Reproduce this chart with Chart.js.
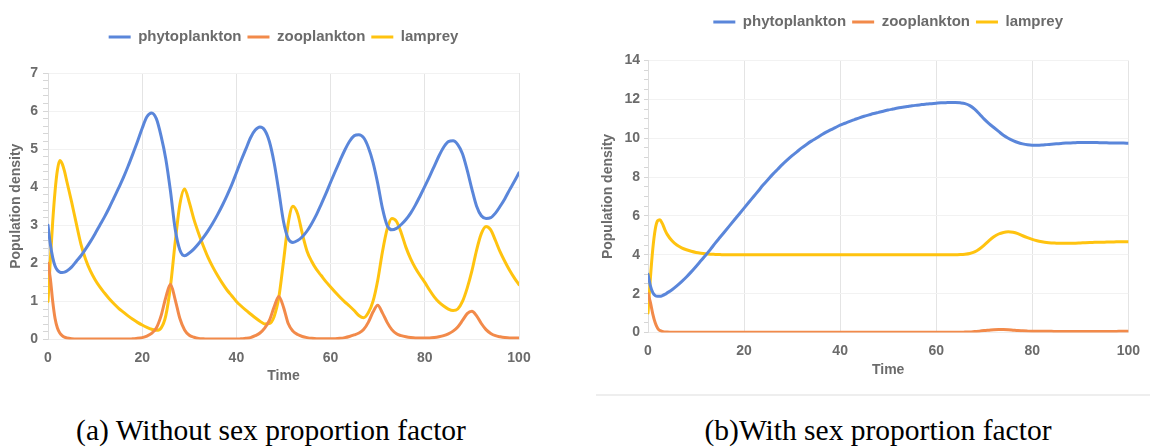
<!DOCTYPE html>
<html><head><meta charset="utf-8">
<script src="https://cdn.jsdelivr.net/npm/chart.js@4"></script>
<style>
html,body{margin:0;padding:0;background:#fff;width:1150px;height:448px;overflow:hidden;position:relative}
.wrap{position:absolute;top:0;height:400px;width:575px}
.cap{position:absolute;top:413px;font-family:"Liberation Serif","Times New Roman",serif;font-size:29.5px;line-height:34px;color:#000;white-space:nowrap;text-align:center;width:500px}
#sep{position:absolute;left:596px;top:394px;width:554px;height:2px;background:#eeeeee}
</style></head><body>
<div class="wrap" style="left:0"><canvas id="ca"></canvas></div>
<div class="wrap" style="left:575px"><canvas id="cb"></canvas></div>
<div id="sep"></div>
<div class="cap" style="left:21px">(a) Without sex proportion factor</div>
<div class="cap" style="left:628px">(b)With sex proportion factor</div>
<script>
const seriesNames = ['phytoplankton','zooplankton','lamprey'];
const seriesColors = ['#5a86da','#f28a4a','#ffc30f'];
const xTicksLabels = [0,20,40,60,80,100];

const timeA = [0,0.5,1,1.5,2,2.5,3,3.5,4,5,6,7,8,9,10,11,12,13,14,15,16,17,18,19,20,21,22,23,24,25,26,27,28,29,30,31,32,33,34,35,36,37,38,39,40,41,42,43,44,45,46,47,48,49,50,51,52,53,54,55,56,57,58,59,60,61,62,63,64,65,66,67,68,69,70,71,72,73,74,75,76,77,78,79,80,81,82,83,84,85,86,87,88,89,90,91,92,93,94,95,96,97,98,99,100];
const phytoA = [3.0,2.5,2.15,1.93,1.82,1.77,1.76,1.77,1.8,
 1.9,2.05,2.2,2.38,2.57,2.78,3.0,3.22,3.46,3.72,3.98,4.25,4.55,4.87,5.2,5.55,5.85,5.95,5.8,5.35,4.75,3.9,2.9,2.35,2.2,2.27,
 2.38,2.52,2.68,2.86,3.06,3.28,3.52,3.78,4.06,4.38,4.7,5.0,5.3,5.5,5.58,5.5,5.2,4.65,3.9,3.1,2.65,2.55,2.6,
 2.7,2.85,3.05,3.28,3.55,3.83,4.13,4.42,4.7,4.97,5.2,5.35,5.38,5.3,5.05,4.65,4.1,3.45,3.0,2.88,2.92,
 3.02,3.15,3.32,3.53,3.77,4.02,4.28,4.55,4.82,5.05,5.2,5.22,5.12,4.88,4.45,3.95,3.5,3.25,3.18,3.2,3.32,3.5,3.7,3.93,4.15,4.38];
const zooA = [2.0,1.6,1.0,0.55,0.3,0.17,0.1,0.06,0.04,
 0.02,0.01,0.01,0.01,0.01,0.01,0.01,0.01,0.01,0.01,0.01,0.01,0.01,0.02,0.03,0.05,0.09,0.16,0.3,0.62,1.1,1.45,1.05,0.55,0.25,0.11,
 0.06,0.03,0.02,0.01,0.01,0.01,0.01,0.01,0.01,0.01,0.02,0.03,0.05,0.1,0.17,0.3,0.5,0.85,1.13,0.85,0.42,0.22,0.13,
 0.08,0.05,0.03,0.02,0.02,0.02,0.02,0.02,0.03,0.05,0.08,0.12,0.17,0.26,0.45,0.72,0.9,0.7,0.45,0.26,0.15,
 0.1,0.07,0.05,0.04,0.04,0.04,0.04,0.05,0.07,0.1,0.15,0.22,0.33,0.5,0.68,0.74,0.62,0.42,0.26,0.16,0.1,0.07,0.05,0.04,0.04,0.04];
const lampA = [1.0,2.1,3.1,3.9,4.45,4.7,4.62,4.42,4.15,
 3.62,3.05,2.5,2.1,1.8,1.57,1.38,1.22,1.07,0.94,0.82,0.72,0.62,0.53,0.45,0.38,0.32,0.27,0.24,0.3,0.62,1.4,2.55,3.55,3.95,3.6,
 3.15,2.78,2.45,2.15,1.9,1.68,1.48,1.3,1.15,1.0,0.88,0.77,0.67,0.57,0.48,0.41,0.42,0.6,1.1,2.05,3.05,3.5,3.3,
 2.78,2.32,2.05,1.84,1.68,1.52,1.38,1.24,1.11,0.99,0.88,0.76,0.63,0.57,0.7,1.0,1.55,2.3,2.9,3.18,3.1,
 2.8,2.42,2.12,1.88,1.68,1.5,1.3,1.12,0.98,0.88,0.8,0.76,0.8,1.0,1.35,1.8,2.35,2.78,2.97,2.88,2.6,2.3,2.05,1.82,1.62,1.44];

const timeB = [0,0.5,1,1.5,2,2.5,3,3.5,4,5,6,7,8,9,10,11,12,13,14,15,16,17,18,19,20,21,22,23,24,25,26,27,28,29,30,31,32,33,34,35,36,37,38,39,40,41,42,43,44,45,46,47,48,49,50,51,52,53,54,55,56,57,58,59,60,61,62,63,64,65,66,67,68,69,70,71,72,73,74,75,76,77,78,79,80,81,82,83,84,85,86,87,88,89,90,91,92,93,94,95,96,97,98,99,100];
const phytoB = [3.0,2.4,2.05,1.9,1.86,1.86,1.9,1.96,2.04,
 2.2,2.4,2.62,2.86,3.12,3.4,3.69,3.98,4.28,4.6,4.9,5.2,5.5,5.8,6.1,6.4,6.7,7.0,7.3,7.6,7.88,8.15,8.4,8.65,8.88,9.1,
 9.3,9.5,9.68,9.85,10.0,10.15,10.3,10.43,10.55,10.67,10.77,10.87,10.96,11.05,11.13,11.2,11.27,11.33,11.39,11.45,11.5,11.55,11.59,
 11.63,11.67,11.7,11.73,11.76,11.78,11.8,11.82,11.83,11.84,11.84,11.82,11.78,11.68,11.5,11.25,10.98,10.75,10.55,10.35,10.15,
 10.0,9.88,9.78,9.71,9.66,9.64,9.64,9.65,9.67,9.69,9.71,9.73,9.75,9.76,9.77,9.78,9.78,9.78,9.78,9.77,9.77,9.76,9.76,9.75,9.75,9.74];
const zooB = [2.0,1.55,0.95,0.5,0.22,0.1,0.05,0.03,0.02,
 0.01,0.01,0.01,0.01,0.01,0.01,0.01,0.01,0.01,0.01,0.01,0.01,0.01,0.01,0.01,0.01,0.01,0.01,0.01,0.01,0.01,0.01,0.01,0.01,0.01,0.01,
 0.01,0.01,0.01,0.01,0.01,0.01,0.01,0.01,0.01,0.01,0.01,0.01,0.01,0.01,0.01,0.01,0.01,0.01,0.01,0.01,0.01,0.01,0.01,
 0.01,0.01,0.01,0.01,0.01,0.01,0.01,0.01,0.01,0.01,0.01,0.01,0.02,0.03,0.05,0.07,0.1,0.12,0.14,0.15,0.15,
 0.14,0.12,0.1,0.09,0.08,0.07,0.06,0.06,0.06,0.06,0.05,0.05,0.05,0.05,0.05,0.05,0.05,0.05,0.05,0.05,0.05,0.05,0.05,0.06,0.06,0.06];
const lampB = [1.0,2.8,4.3,5.3,5.75,5.8,5.6,5.3,5.05,
 4.72,4.5,4.36,4.26,4.18,4.12,4.08,4.05,4.03,4.02,4.01,4.0,4.0,4.0,4.0,4.0,4.0,4.0,4.0,4.0,4.0,4.0,4.0,4.0,4.0,4.0,
 4.0,4.0,4.0,4.0,4.0,4.0,4.0,4.0,4.0,4.0,4.0,4.0,4.0,4.0,4.0,4.0,4.0,4.0,4.0,4.0,4.0,4.0,4.0,
 4.0,4.0,4.0,4.0,4.0,4.0,4.0,4.0,4.0,4.0,4.0,4.01,4.03,4.07,4.15,4.3,4.5,4.73,4.93,5.07,5.15,
 5.18,5.16,5.09,4.98,4.88,4.79,4.72,4.67,4.63,4.61,4.6,4.59,4.59,4.6,4.6,4.61,4.62,4.63,4.64,4.65,4.65,4.66,4.66,4.67,4.67,4.67];

const TXT = '#6b6b6b';
const FONT = "'Liberation Sans', Arial, sans-serif";

const legendGap = {
  id: 'legendGap',
  beforeLayout(chart, args, opts) {
    const lg = chart.legend;
    if (lg && !lg._gapPatched) {
      const f = lg.fit;
      lg.fit = function() { f.call(this); this.height += opts.extra || 0; };
      lg._gapPatched = true;
    }
  }
};

function makeChart(id, times, vals, cfg) {
  const datasets = vals.map((arr, i) => ({
    label: seriesNames[i],
    data: times.map((t, k) => ({x: t, y: arr[k]})),
    borderColor: seriesColors[i],
    backgroundColor: seriesColors[i],
    borderWidth: 3,
    borderCapStyle: 'round',
    pointRadius: 0,
    fill: false,
    cubicInterpolationMode: 'monotone'
  }));
  return new Chart(document.getElementById(id), {
    type: 'line',
    data: {datasets},
    plugins: [legendGap],
    options: {
      responsive: true,
      maintainAspectRatio: false,
      animation: false,
      events: [],
      layout: {padding: cfg.padding},
      plugins: {
        legendGap: {extra: cfg.legendExtra},
        tooltip: {enabled: false},
        legend: {
          position: 'top',
          fullSize: false,
          labels: {
            usePointStyle: true,
            pointStyle: 'line',
            pointStyleWidth: 22,
            padding: 6,
            color: TXT,
            font: {family: FONT, size: 15, weight: 'bold'}
          }
        }
      },
      scales: {
        x: {
          type: 'linear', min: 0, max: 100,
          afterBuildTicks: s => { s.ticks = xTicksLabels.map(v => ({value: v})); },
          afterFit: s => { s.height = cfg.xHeight; },
          ticks: {color: TXT, font: {family: FONT, size: 14, weight: 'bold'}, padding: 10, maxRotation: 0},
          grid: {color: '#e4e4e4', drawTicks: false, lineWidth: 1},
          border: {display: true, color: '#eeeeee'},
          title: {display: true, text: 'Time', color: TXT, font: {family: FONT, size: 14, weight: 'bold'}, padding: {top: 0, bottom: 0}}
        },
        y: {
          min: 0, max: cfg.yMax,
          afterFit: s => { s.width = cfg.yWidth; },
          ticks: {
            stepSize: cfg.minorStep, autoSkip: false,
            color: TXT, font: {family: FONT, size: 14, weight: 'bold'}, padding: cfg.tickPad,
            callback: v => {
              const r = Math.round(v / cfg.majorStep) * cfg.majorStep;
              return Math.abs(v - r) < 1e-6 ? String(r) : '';
            }
          },
          grid: {
            color: c => {
              const v = c.tick ? c.tick.value : 0;
              const r = Math.round(v / cfg.majorStep) * cfg.majorStep;
              return Math.abs(v - r) < 1e-6 ? '#f2f2f2' : 'rgba(0,0,0,0)';
            },
            tickColor: '#d6d6d6', tickLength: cfg.tickLen, drawTicks: true
          },
          border: {display: true, color: '#dddddd'},
          title: {display: true, text: 'Population density', color: TXT, font: {family: FONT, size: 14, weight: 'bold'}, padding: {top: 0, bottom: 0}}
        }
      }
    }
  });
}

makeChart('ca', timeA, [phytoA, zooA, lampA], {
  padding: {left: 8, right: 56, top: 23.5, bottom: 15},
  legendExtra: 18.5, xHeight: 45.5, yWidth: 40, yMax: 7,
  minorStep: 0.2, majorStep: 1, tickPad: 5, tickLen: 5
});
makeChart('cb', timeB, [phytoB, zooB, lampB], {
  padding: {left: 25, right: 20, top: 8.5, bottom: 21.6},
  legendExtra: 21, xHeight: 45.9, yWidth: 48, yMax: 14,
  minorStep: 0.5, majorStep: 2, tickPad: 4, tickLen: 4
});
</script>
</body></html>
